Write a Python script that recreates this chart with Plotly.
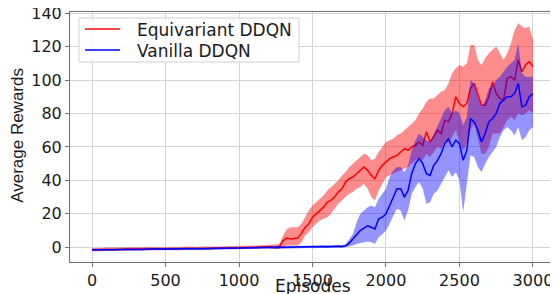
import plotly.graph_objects as go

# Episode grid (coarse in the flat early phase, finer later)
episodes = list(range(0, 1250, 50)) + list(range(1250, 3001, 25))

eq_mean = [
    -1.5, -1.5, -1.2, -1.3, -1.2, -1.0, -1.2, -1.0, -0.9, -1.0, -1.0, -0.8, -0.9,
    -0.7, -0.8, -0.6, -0.7, -0.6, -0.5, -0.4, -0.4, -0.2, -0.3, 0.0, 0.3,
    0.2, 0.5,
    4, 5.5, 5.0, 5.2,
    5.5, 8.5, 12, 14,
    18, 20, 22, 24,
    27, 28, 30, 33,
    35, 39, 41, 42,
    44, 46, 48, 46,
    43, 41, 46, 49,
    51, 53, 54, 55,
    57, 59, 58, 60,
    61, 63, 61, 69,
    63, 66, 70, 68,
    76, 75, 80, 90,
    86, 84, 86, 95,
    98, 92, 85, 85,
    90, 99, 92, 89,
    88, 101, 102, 100,
    112, 105, 109, 111,
    108,
]
eq_hi = [
    -0.5, -0.6, -0.2, -0.3, -0.2, 0.0, -0.2, 0.0, 0.1, 0.0, 0.0, 0.3, 0.1,
    0.4, 0.2, 0.5, 0.3, 0.4, 0.6, 0.8, 0.8, 1.0, 0.9, 1.2, 1.5,
    1.5, 2,
    7, 11, 12, 12,
    12, 14, 18, 22,
    25, 27, 29, 31,
    34, 36, 38, 40,
    43, 45, 48, 50,
    52, 54, 56, 55,
    52, 53, 57, 60,
    63, 64, 65, 67,
    68, 70, 72, 74,
    76, 80, 83, 87,
    89, 89, 91, 93,
    94, 98, 104, 107,
    109, 108, 110, 121,
    121, 112, 109, 113,
    116, 118, 120, 116,
    112, 116, 122, 130,
    134, 132, 131, 132,
    124,
]
eq_lo = [
    -2.3, -2.3, -2.0, -2.1, -2.0, -1.8, -2.0, -1.8, -1.7, -1.8, -1.8, -1.6, -1.7,
    -1.5, -1.6, -1.4, -1.5, -1.4, -1.3, -1.2, -1.2, -1.0, -1.1, -0.8, -0.6,
    -1, -1,
    0, 1, 1, 1,
    1, 3, 7, 9,
    12, 14, 16, 17,
    18, 20, 23, 26,
    28, 30, 32, 33,
    35, 36, 38, 35,
    30, 28, 34, 38,
    42, 43, 44, 45,
    46, 47, 48, 50,
    52, 53, 52, 56,
    54, 57, 60, 59,
    63, 62, 66, 70,
    63, 58, 62, 70,
    74, 66, 56, 56,
    60, 68, 68, 68,
    72, 76, 78, 76,
    80, 79, 80, 82,
    80,
]

va_mean = [
    -1.5, -1.6, -1.4, -1.5, -1.3, -1.4, -1.2, -1.3, -1.1, -1.2, -1.0, -1.0, -0.9,
    -1.0, -0.8, -0.9, -0.7, -0.6, -0.6, -0.5, -0.5, -0.4, -0.4, -0.3, -0.2,
    -0.2, -0.1,
    0, 0, 0.1, 0,
    0.2, 0.1, 0.2, 0.3,
    0.2, 0.4, 0.3, 0.5,
    0.3, 0.5, 0.4, 0.6,
    0.5, 0.8, 2.5, 5,
    7.5, 10, 11.5, 12.8,
    12, 11, 17, 18,
    20, 25, 31, 35,
    35, 30, 34, 44,
    50, 53, 50, 44,
    43, 49, 52, 56,
    62, 65, 60, 64,
    62, 52, 58, 77,
    75, 70, 63, 68,
    75, 77, 80, 86,
    88, 90, 90, 92,
    98, 84, 85, 90,
    92,
]
va_hi = [
    -0.9, -1.0, -0.8, -0.9, -0.7, -0.8, -0.6, -0.7, -0.5, -0.6, -0.4, -0.4, -0.3,
    -0.4, -0.2, -0.3, -0.1, 0.0, 0.0, 0.1, 0.1, 0.2, 0.2, 0.3, 0.4,
    0.6, 0.7,
    0.8, 0.8, 0.9, 0.8,
    1.0, 0.9, 1.0, 1.1,
    1.0, 1.2, 1.1, 1.3,
    1.1, 1.3, 1.2, 1.4,
    1.3, 1.8, 5, 8,
    15, 20, 22, 24,
    25, 24, 29, 32,
    35, 42, 46, 48,
    48, 45, 49, 58,
    64, 68, 66, 64,
    63, 68, 72, 77,
    82, 84, 80, 82,
    80, 73, 78, 100,
    98, 90, 84, 88,
    95, 97, 100, 102,
    105, 108, 110, 112,
    122, 104, 102, 102,
    102,
]
va_lo = [
    -2.1, -2.2, -2.0, -2.1, -1.9, -2.0, -1.8, -1.9, -1.7, -1.8, -1.6, -1.6, -1.5,
    -1.6, -1.4, -1.5, -1.3, -1.2, -1.2, -1.1, -1.1, -1.0, -1.0, -0.9, -0.8,
    -1.0, -0.9,
    -0.8, -0.8, -0.7, -0.8,
    -0.6, -0.7, -0.6, -0.5,
    -0.6, -0.4, -0.5, -0.3,
    -0.5, -0.3, -0.4, -0.2,
    -0.3, 0, 0.5, 1,
    2, 2.5, 3, 3.4,
    3, 2, 6, 8,
    10, 14, 19, 23,
    22, 16, 22, 32,
    36, 39, 35, 26,
    27, 32, 34, 38,
    42, 46, 42, 45,
    40, 21, 38, 55,
    54, 48, 45, 50,
    54, 57, 60, 66,
    70, 72, 70, 67,
    72, 64, 66, 70,
    72,
]

series_names = ["Equivariant DDQN", "Vanilla DDQN"]
series_colors = ["#ff0000", "#0000ff"]
x_ticks = [0, 500, 1000, 1500, 2000, 2500, 3000]
y_ticks = [0, 20, 40, 60, 80, 100, 120, 140]

FONT = "DejaVu Sans"
TXT = "#1a1a1a"

fig = go.Figure()

def band(x, lo, hi, color):
    return go.Scatter(
        x=list(x) + list(x)[::-1],
        y=list(hi) + list(lo)[::-1],
        fill="toself", fillcolor=color, line=dict(width=0),
        mode="lines", showlegend=False, hoverinfo="skip",
    )

fig.add_trace(band(episodes, eq_lo, eq_hi, "rgba(255,0,0,0.45)"))
fig.add_trace(go.Scatter(x=episodes, y=eq_mean, mode="lines",
                         line=dict(color=series_colors[0], width=1.5),
                         name=series_names[0], showlegend=False))
fig.add_trace(band(episodes, va_lo, va_hi, "rgba(0,0,255,0.42)"))
fig.add_trace(go.Scatter(x=episodes, y=va_mean, mode="lines",
                         line=dict(color=series_colors[1], width=1.5),
                         name=series_names[1], showlegend=False))

axis_common = dict(
    showline=True, linecolor="#707070", linewidth=1, mirror=True,
    showgrid=True, gridcolor="#d3d3d3", gridwidth=1,
    ticks="outside", ticklen=4, tickcolor="#707070", tickwidth=1,
    zeroline=False, automargin=False, ticklabeloverflow="allow",
    tickfont=dict(family=FONT, size=16, color=TXT),
)

# legend box (matplotlib-style, compact rows)
shapes = [dict(type="rect", xref="paper", yref="paper", x0=0.0186, x1=0.472,
               y0=0.80, y1=0.976, line=dict(color="#d0d0d0", width=1),
               fillcolor="rgba(255,255,255,0.85)", layer="above")]
annotations = []
row_y = [0.932, 0.848]
for name, color, yy in zip(series_names, series_colors, row_y):
    shapes.append(dict(type="line", xref="paper", yref="paper", x0=0.031, x1=0.103,
                       y0=yy, y1=yy, line=dict(color=color, width=1.5), layer="above"))
    annotations.append(dict(text=name, xref="paper", yref="paper", x=0.134, y=yy - 0.004,
                            xanchor="left", yanchor="middle", showarrow=False,
                            font=dict(family=FONT, size=17, color=TXT)))

annotations += [
    dict(text="Episodes", xref="paper", yref="paper", x=0.5, y=-0.094,
         xanchor="center", yanchor="middle", showarrow=False,
         font=dict(family=FONT, size=17, color=TXT)),
    dict(text="Average Rewards", xref="paper", yref="paper", x=-0.107, y=0.505,
         xanchor="center", yanchor="middle", textangle=-90, showarrow=False,
         font=dict(family="Liberation Sans", size=17, color=TXT)),
]

# page body has an 8px default margin, so the figure is 8px smaller
fig.update_layout(
    width=550, height=286,
    margin=dict(l=62, r=3, t=4, b=32),
    paper_bgcolor="white", plot_bgcolor="white",
    xaxis=dict(range=[-150, 3150], tickvals=x_ticks, **axis_common),
    yaxis=dict(range=[-8.8, 140.7], tickvals=y_ticks, **axis_common),
    showlegend=False,
    shapes=shapes,
    annotations=annotations,
)

fig.write_html("out.html")
